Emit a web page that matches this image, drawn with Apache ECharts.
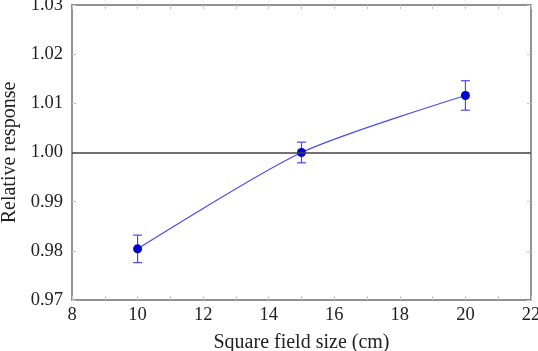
<!DOCTYPE html>
<html>
<head>
<meta charset="utf-8">
<script src="https://cdn.jsdelivr.net/npm/echarts@6/dist/echarts.min.js"></script>
<style>
  html, body { margin: 0; padding: 0; background: #fff; }
  #chart { width: 538px; height: 351px; }
</style>
</head>
<body>
<div id="chart"></div>
<script>
// field sizes (cm) and measured relative response
var fieldSizes = [10, 15, 20];
var response = [0.9804, 1.0000, 1.0116];
var errors = [0.0028, 0.0021, 0.0030];
var referenceLevel = 1.0;

var font = "'Liberation Serif', 'DejaVu Serif', serif";
var frameColor = "#6e6e6e";
var tickColor = "#c8c8c8";

var points = fieldSizes.map(function (x, i) { return [x, response[i]]; });
var errData = fieldSizes.map(function (x, i) {
  return [x, response[i] - errors[i], response[i] + errors[i]];
});

// base axis settings shared by the mirrored (top/right) axes
function frameAxis(extra) {
  return Object.assign({
    axisLine: { show: true, onZero: false, lineStyle: { color: frameColor, width: 1.5 } },
    axisTick: { show: true, inside: true, length: 4, lineStyle: { color: tickColor } },
    splitLine: { show: false },
  }, extra);
}

var myChart = echarts.init(document.getElementById("chart"));
myChart.setOption({
  animation: false,
  grid: { left: 72, right: 7, top: 5, bottom: 51, outerBoundsMode: "none", containLabel: false },
  xAxis: [
    frameAxis({
      type: "value", min: 8, max: 22, interval: 1,
      name: "Square field size (cm)",
      nameLocation: "middle", nameGap: 33,
      nameTextStyle: { fontFamily: font, fontSize: 20, color: "#222" },
      axisLabel: {
        fontFamily: font, fontSize: 18.5, color: "#222", margin: 6,
        formatter: function (v) { return v % 2 === 0 ? String(v) : ""; },
      },
    }),
    frameAxis({ type: "value", min: 8, max: 22, interval: 1, position: "top", axisLabel: { show: false } }),
  ],
  yAxis: [
    frameAxis({
      type: "value", min: 0.97, max: 1.03, interval: 0.01,
      name: "Relative response",
      nameLocation: "middle", nameGap: 49,
      nameTextStyle: { fontFamily: font, fontSize: 20, color: "#222" },
      axisLabel: {
        fontFamily: font, fontSize: 18.5, color: "#222", margin: 9,
        formatter: function (v) { return v.toFixed(2); },
      },
    }),
    frameAxis({ type: "value", min: 0.97, max: 1.03, interval: 0.01, position: "right", axisLabel: { show: false } }),
  ],
  series: [
    {
      type: "line",
      data: points,
      smooth: 0.25,
      symbol: "circle",
      symbolSize: 9,
      z: 3,
      itemStyle: { color: "#0000d0" },
      lineStyle: { color: "#4a4aee", width: 1.2 },
      markLine: {
        silent: true,
        symbol: "none",
        label: { show: false },
        lineStyle: { color: "#444", width: 1.5, type: "solid" },
        data: [{ yAxis: referenceLevel }],
      },
    },
    {
      type: "custom",
      data: errData,
      z: 2,
      renderItem: function (params, api) {
        var lo = api.coord([api.value(0), api.value(1)]);
        var hi = api.coord([api.value(0), api.value(2)]);
        var w = 4.5;
        var style = { stroke: "#4a4aee", lineWidth: 1.2 };
        return {
          type: "group",
          children: [
            { type: "line", shape: { x1: lo[0], y1: lo[1], x2: hi[0], y2: hi[1] }, style: style },
            { type: "line", shape: { x1: lo[0] - w, y1: lo[1], x2: lo[0] + w, y2: lo[1] }, style: style },
            { type: "line", shape: { x1: hi[0] - w, y1: hi[1], x2: hi[0] + w, y2: hi[1] }, style: style },
          ],
        };
      },
    },
  ],
});
</script>
</body>
</html>
